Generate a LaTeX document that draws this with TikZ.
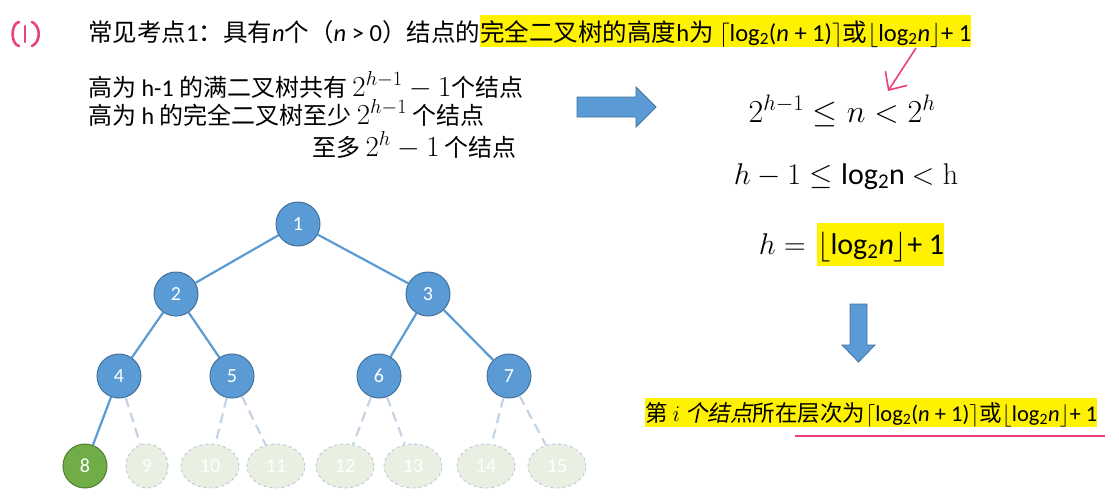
\RequirePackage{fix-cm}
\documentclass[tikz,border=0pt]{standalone}
\usepackage[no-math]{fontspec}
\setmainfont{Noto Sans CJK SC}
\newfontfamily\latf{Carlito}
\newfontfamily\cjkslant[FakeSlant=0.2]{Noto Sans CJK SC}
\usetikzlibrary{arrows.meta,shapes.geometric}

\definecolor{nodeblue}{HTML}{5B9BD5}
\definecolor{nodeedge}{HTML}{41719C}
\definecolor{leafgreen}{HTML}{70AD47}
\definecolor{leafedge}{HTML}{507E32}
\definecolor{ghostfill}{HTML}{E9F0E2}
\definecolor{ghostrim}{HTML}{B7C8D9}
\definecolor{ghostline}{HTML}{C4D4E6}
\definecolor{markpink}{HTML}{E8437A}

\newcommand{\lat}[1]{{\latf #1}}
\newcommand{\logtwo}{\lat{log}\textsubscript{\lat{2}}}
\newcommand{\bodymath}[1]{{\fontsize{29}{30}\selectfont$#1$}}

\tikzset{
	treenode/.style={circle, draw=nodeedge, fill=nodeblue, line width=1pt, minimum size=44pt, inner sep=0pt, text=white, font=\latf\fontsize{20}{20}\selectfont},
	leafnode/.style={treenode, draw=leafedge, fill=leafgreen},
	ghostnode/.style={ellipse, draw=ghostrim, dashed, fill=ghostfill, line width=0.9pt, minimum height=44pt, inner sep=0pt, text=white, font=\latf\fontsize{20}{20}\selectfont},
	treeedge/.style={nodeblue, line width=2.2pt},
	ghostlink/.style={ghostline, line width=2.2pt, dash pattern=on 10pt off 6pt},
	textline/.style={anchor=base west, inner sep=0pt, font=\fontsize{24}{28}\selectfont},
	hlbox/.style={anchor=base west, fill=yellow, inner xsep=0pt, inner ysep=0pt},
	bigarrow/.style={fill=nodeblue, draw=nodeedge, line width=0.8pt},
	formula/.style={inner sep=0pt, font=\fontsize{30}{34}\selectfont}
}

\begin{document}
\begin{tikzpicture}[x=1pt, y=-1pt]
				\useasboundingbox (0,0) rectangle (1119,496);

				% (1) mark
				\draw[markpink, line width=2.6pt, line cap=round] (19,22) .. controls (11,23) and (10,44) .. (19,46);
				\draw[markpink, line width=2.6pt, line cap=round] (25,26) -- (25,42);
				\draw[markpink, line width=2.6pt, line cap=round] (32,22) .. controls (41,26) and (41,42) .. (32,46);

				% heading
				\node (head) [textline, font=\fontsize{24.5}{28}\selectfont] at (88,41) {常见考点\lat{1}：具有\lat{\itshape n}个（\lat{\itshape n \upshape > 0}）结点的};
				\node (headhl) [hlbox, text height=26pt, text depth=6pt, font=\fontsize{24.5}{28}\selectfont] at (head.base east) {完全二叉树的高度\lat{h}为\hspace{5pt}$\big\lceil$\logtwo\lat{(\itshape n \upshape + 1)}$\big\rceil$或$\big\lfloor$\logtwo\lat{\itshape n}$\big\rfloor$\lat{+ 1}};

				\coordinate (pinktail) at (916,48);
				\coordinate (pinktip) at (888,91);
				\draw[markpink, line width=1.6pt, -{Straight Barb[length=14pt,width=26pt]}] (pinktail) -- (pinktip);

				% left block
				\node (full) [textline] at (88,96) {高为 \lat{h-1} 的满二叉树共有 \bodymath{2^{h-1}-1}个结点};
				\node (least) [textline] at (88,124) {高为 \lat{h} 的完全二叉树至少 \bodymath{2^{h-1}} 个结点};
				\node (most) [textline] at (312,156) {至多 \bodymath{2^h-1} 个结点};

				% arrows
				\draw[bigarrow] (577,97) -- (636,97) -- (636,87) -- (656,107) -- (636,127) -- (636,117) -- (577,117) -- cycle;
				\draw[bigarrow] (850,304) -- (867,304) -- (867,345) -- (875,345) -- (858.5,362) -- (842,345) -- (850,345) -- cycle;

				% right formulas
				\node (ineqA) [formula, anchor=base, font=\fontsize{32}{34}\selectfont] at (842,122) {$2^{h-1}\le n<2^h$};
				\node (ineqB) [formula, anchor=base] at (846,184) {$h-1\le{}$\logtwo\lat{n} $<\mathrm{h}$};
				\node (eqh) [formula, anchor=base east] at (806,254) {$h=$};
				\node (eqhl) [hlbox, text height=31pt, text depth=12pt, font=\fontsize{30}{34}\selectfont] at (817,254) {$\big\lfloor$\logtwo\lat{\itshape n}$\big\rfloor$\lat{+ 1}};

				% level of node i
				\node (level) [hlbox, text height=23pt, text depth=6pt, font=\fontsize{22.5}{26}\selectfont] at (645,421) {第 $i$ {\cjkslant 个结点}所在层次为$\lceil$\logtwo\lat{(\itshape n \upshape + 1)}$\rceil$或$\lfloor$\logtwo\lat{\itshape n}$\rfloor$\lat{+ 1}};
				\coordinate (ulA) at (795,436);
				\coordinate (ulB) at (1105,436);
				\draw[markpink, line width=2pt] (ulA) -- (ulB);

				% tree
				\node (n1) [treenode] at (298,224) {1};
				\node (n2) [treenode] at (176,294) {2};
				\node (n3) [treenode] at (428,294) {3};
				\node (n4) [treenode] at (119,376) {4};
				\node (n5) [treenode] at (232,376) {5};
				\node (n6) [treenode] at (379,376) {6};
				\node (n7) [treenode] at (509,376) {7};
				\node (n8) [leafnode] at (85,466) {8};
				\foreach \i/\x/\w in {9/147/42, 10/210/58, 11/276/58, 12/345/58, 13/413/58, 14/486/58, 15/557/58}{
						\node (n\i) [ghostnode, minimum width=\w pt] at (\x,466) {\i};
					}

				\foreach \a/\b in {n1/n2, n1/n3, n2/n4, n2/n5, n3/n6, n3/n7, n4/n8}{
						\draw[treeedge] (\a) -- (\b);
					}
				\foreach \a/\b in {n4/n9, n5/n10, n5/n11, n6/n12, n6/n13, n7/n14, n7/n15}{
						\draw[ghostlink] (\a) -- (\b);
					}
			\end{tikzpicture}
\end{document}
